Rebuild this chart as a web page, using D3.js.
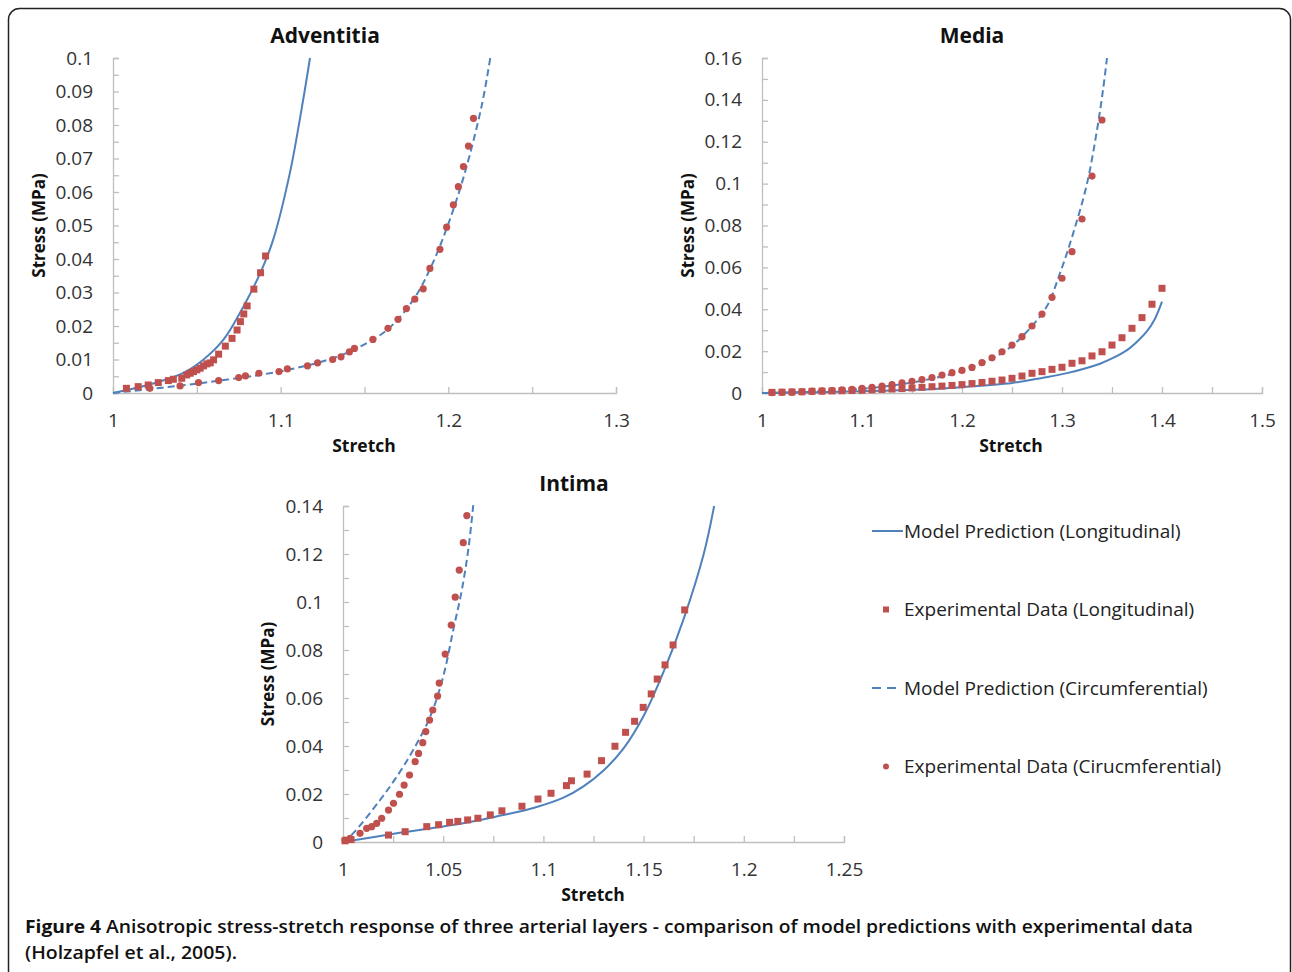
<!DOCTYPE html>
<html>
<head>
<meta charset="utf-8">
<script src="https://cdn.jsdelivr.net/npm/d3@7"></script>
<style>
  body { margin: 0; background: #fff; }
  text { font-family: "Open Sans", "Liberation Sans", sans-serif; }
  .tick text { fill: #333; }
</style>
</head>
<body>
<div id="figure"></div>
<script>
// Stress-stretch figure: three arterial layers, model vs experiment

const FRAME_WIDTH = 1292;
const FRAME_HEIGHT = 972;
const BLUE = "#4F81BD";
const RED = "#C0504D";
const AXIS_GREY = "#BFBFBF";

// ---- Adventitia data (stretch, stress MPa) ----
const ADV_LONG_MODEL_X = [1.0, 1.025, 1.042, 1.054, 1.066, 1.078, 1.088, 1.0955, 1.1055, 1.1127, 1.1175];
const ADV_LONG_MODEL_Y = [0, 0.003, 0.006, 0.010, 0.016, 0.026, 0.036, 0.0457, 0.0657, 0.0854, 0.1];
const ADV_LONG_EXP_X = [1.008, 1.015, 1.021, 1.027, 1.033, 1.036, 1.041, 1.044, 1.046, 1.048, 1.050,
  1.052, 1.054, 1.056, 1.058, 1.060, 1.063, 1.067, 1.071, 1.074, 1.076, 1.078, 1.080, 1.084, 1.088, 1.091];
const ADV_LONG_EXP_Y = [0.0014, 0.0019, 0.0024, 0.0031, 0.0037, 0.0041, 0.0044, 0.0054, 0.0059, 0.0064, 0.0069,
  0.0074, 0.0081, 0.0087, 0.009, 0.0099, 0.0116, 0.014, 0.0163, 0.0188, 0.0213, 0.0236, 0.026, 0.031, 0.0359, 0.0409];
const ADV_CIRC_MODEL_X = [1.0, 1.05, 1.1, 1.13, 1.15, 1.165, 1.18, 1.19, 1.2, 1.21, 1.22, 1.225];
const ADV_CIRC_MODEL_Y = [0, 0.0028, 0.0065, 0.0102, 0.0145, 0.0195, 0.0285, 0.038, 0.0505, 0.066, 0.086, 0.1];
const ADV_CIRC_EXP_X = [1.022, 1.040, 1.051, 1.063, 1.075, 1.079, 1.087, 1.099, 1.104, 1.116, 1.122, 1.131,
  1.136, 1.141, 1.144, 1.155, 1.164, 1.170, 1.175, 1.180, 1.185, 1.189, 1.195, 1.199, 1.203, 1.206, 1.209, 1.212, 1.215];
const ADV_CIRC_EXP_Y = [0.0014, 0.0021, 0.0031, 0.0037, 0.0046, 0.0051, 0.0059, 0.0064, 0.0072, 0.0081, 0.009, 0.010,
  0.0108, 0.0123, 0.0133, 0.016, 0.0193, 0.022, 0.0252, 0.028, 0.0311, 0.0372, 0.0429, 0.0495, 0.0562, 0.0616, 0.0676, 0.0737, 0.082];

// ---- Media data ----
const MED_LONG_MODEL_X = [1.0, 1.1, 1.15, 1.2, 1.25, 1.28, 1.305, 1.338, 1.35, 1.365, 1.375, 1.385, 1.393, 1.40];
const MED_LONG_MODEL_Y = [0, 0.0008, 0.0015, 0.0028, 0.0048, 0.0072, 0.0095, 0.0140, 0.0165, 0.0205, 0.0245, 0.0295, 0.0355, 0.0436];
const MED_LONG_EXP_X = [1.01, 1.02, 1.03, 1.04, 1.05, 1.06, 1.07, 1.08, 1.09, 1.10, 1.11, 1.12, 1.13, 1.14,
  1.15, 1.16, 1.17, 1.18, 1.19, 1.20, 1.21, 1.22, 1.23, 1.24, 1.25, 1.26, 1.27, 1.28, 1.29, 1.30, 1.31, 1.32,
  1.33, 1.34, 1.35, 1.36, 1.37, 1.38, 1.39, 1.40];
const MED_LONG_EXP_Y = [0.0003, 0.0004, 0.0005, 0.0006, 0.0008, 0.0009, 0.001, 0.0011, 0.0012, 0.0013, 0.0015,
  0.0017, 0.0019, 0.0021, 0.0024, 0.0027, 0.003, 0.0033, 0.0036, 0.004, 0.0045, 0.005, 0.0056, 0.0062, 0.007,
  0.0081, 0.0094, 0.0102, 0.0113, 0.0123, 0.0142, 0.0154, 0.0177, 0.0197, 0.0229, 0.0264, 0.0309, 0.036, 0.0424, 0.05];
const MED_CIRC_MODEL_X = [1.0, 1.05, 1.1, 1.15, 1.2, 1.23, 1.25, 1.27, 1.285, 1.298, 1.311, 1.325, 1.335, 1.341, 1.345];
const MED_CIRC_MODEL_Y = [0, 0.0006, 0.002, 0.005, 0.0105, 0.0165, 0.0225, 0.032, 0.0415, 0.0572, 0.076, 0.100, 0.1256, 0.1447, 0.16];
const MED_CIRC_EXP_X = [1.01, 1.02, 1.03, 1.04, 1.05, 1.06, 1.07, 1.08, 1.09, 1.10, 1.11, 1.12, 1.13, 1.14,
  1.15, 1.16, 1.17, 1.18, 1.19, 1.20, 1.21, 1.22, 1.23, 1.24, 1.25, 1.26, 1.27, 1.28, 1.29, 1.30, 1.31, 1.32, 1.33, 1.34];
const MED_CIRC_EXP_Y = [0.0002, 0.0003, 0.0004, 0.0006, 0.0008, 0.001, 0.0012, 0.0015, 0.0018, 0.0022, 0.0027,
  0.0033, 0.004, 0.0048, 0.0056, 0.0064, 0.0074, 0.0086, 0.0097, 0.0108, 0.0122, 0.0145, 0.0168, 0.0197, 0.0229,
  0.0269, 0.032, 0.0377, 0.0457, 0.0548, 0.0675, 0.0831, 0.1036, 0.1304];

// ---- Intima data ----
const INT_LONG_MODEL_X = [1.0, 1.0268, 1.06, 1.0785, 1.095, 1.11, 1.12, 1.13, 1.14, 1.15, 1.16, 1.17, 1.18, 1.1852];
const INT_LONG_MODEL_Y = [0, 0.0036, 0.0078, 0.011, 0.0142, 0.0185, 0.0232, 0.0298, 0.039, 0.0525, 0.071, 0.093, 0.12, 0.14];
const INT_LONG_EXP_X = [1.001, 1.004, 1.0227, 1.031, 1.0418, 1.0477, 1.0532, 1.0573, 1.0622, 1.0673, 1.0735,
  1.0793, 1.0893, 1.0973, 1.1038, 1.1115, 1.114, 1.1218, 1.129, 1.1357, 1.141, 1.1455, 1.1498, 1.1538, 1.1568,
  1.1607, 1.1647, 1.1705];
const INT_LONG_EXP_Y = [0.0005, 0.001, 0.0029, 0.0043, 0.0064, 0.0072, 0.0082, 0.0086, 0.0092, 0.0099, 0.0113,
  0.013, 0.0149, 0.0179, 0.0203, 0.0235, 0.0255, 0.0283, 0.0339, 0.0399, 0.0457, 0.0503, 0.0561, 0.0617, 0.0679,
  0.0738, 0.0821, 0.0967];
const INT_CIRC_MODEL_X = [1.0, 1.005, 1.0185, 1.0268, 1.035, 1.0435, 1.050, 1.055, 1.0593, 1.0627, 1.065];
const INT_CIRC_MODEL_Y = [0, 0.0036, 0.0175, 0.0272, 0.0383, 0.0522, 0.0689, 0.0883, 0.105, 0.123, 0.1404];
const INT_CIRC_EXP_X = [1.001, 1.0035, 1.0085, 1.0118, 1.0143, 1.0168, 1.0193, 1.0227, 1.0252, 1.0282, 1.0305,
  1.0332, 1.036, 1.0377, 1.0398, 1.0413, 1.0432, 1.0448, 1.0472, 1.048, 1.051, 1.054, 1.056, 1.058, 1.060, 1.0618];
const INT_CIRC_EXP_Y = [0.0008, 0.0015, 0.0036, 0.0057, 0.0064, 0.0078, 0.0099, 0.0133, 0.0161, 0.0199, 0.0237,
  0.0279, 0.0335, 0.0369, 0.0414, 0.046, 0.0508, 0.055, 0.0608, 0.0662, 0.0783, 0.0904, 0.102, 0.1133, 0.1247, 0.136];

// ---- Tick labels ----
const ADV_X_LABELS = [1, 1.1, 1.2, 1.3];
const ADV_Y_LABELS = [0, 0.01, 0.02, 0.03, 0.04, 0.05, 0.06, 0.07, 0.08, 0.09, 0.1];
const MED_X_LABELS = [1, 1.1, 1.2, 1.3, 1.4, 1.5];
const MED_Y_LABELS = [0, 0.02, 0.04, 0.06, 0.08, 0.1, 0.12, 0.14, 0.16];
const INT_X_LABELS = [1, 1.05, 1.1, 1.15, 1.2, 1.25];
const INT_Y_LABELS = [0, 0.02, 0.04, 0.06, 0.08, 0.1, 0.12, 0.14];

const LEGEND_LABELS = ["Model Prediction (Longitudinal)", "Experimental Data (Longitudinal)",
  "Model Prediction (Circumferential)", "Experimental Data (Cirucmferential)"];

const zip = (xs, ys) => xs.map((x, i) => ({x: x, y: ys[i]}));

const SVG = d3.select("#figure")
  .append("svg")
    .attr("width", FRAME_WIDTH)
    .attr("height", FRAME_HEIGHT);

// Rounded frame around the figure
SVG.append("rect")
  .attr("x", 8.5).attr("y", 8.5)
  .attr("width", 1282).attr("height", 1000)
  .attr("rx", 11)
  .attr("fill", "none")
  .attr("stroke", "#222")
  .attr("stroke-width", 1.5);

function drawPanel(p) {
  const X_SCALE = d3.scaleLinear().domain(p.xDomain).range(p.xRange);
  const Y_SCALE = d3.scaleLinear().domain(p.yDomain).range(p.yRange);

  const isMajor = (v, step) => Math.abs(v / step - Math.round(v / step)) < 1e-6;
  const xMinor = d3.range(0, Math.round((p.xDomain[1] - p.xDomain[0]) / p.xMinor) + 1)
                   .map((i) => +(p.xDomain[0] + i * p.xMinor).toFixed(4));
  const yMinor = d3.range(0, Math.round((p.yDomain[1] - p.yDomain[0]) / p.yMinor) + 1)
                   .map((i) => +(p.yDomain[0] + i * p.yMinor).toFixed(4));
  const xStep = p.xLabels[1] - p.xLabels[0];
  const yStep = p.yLabels[1] - p.yLabels[0];

  // x axis
  const gx = SVG.append("g")
    .attr("transform", "translate(0," + p.yRange[0] + ")")
    .call(d3.axisBottom(X_SCALE)
      .tickValues(xMinor)
      .tickSize(-6)
      .tickPadding(21)
      .tickFormat((d) => isMajor(d - p.xDomain[0], xStep) ? String(d) : ""));
  gx.selectAll("text").attr("font-size", "19px");

  // y axis
  const gy = SVG.append("g")
    .attr("transform", "translate(" + p.xRange[0] + ",0)")
    .call(d3.axisLeft(Y_SCALE)
      .tickValues(yMinor)
      .tickSize(-6)
      .tickPadding(20)
      .tickFormat((d) => isMajor(d, yStep) ? String(d) : ""));
  gy.selectAll("text").attr("font-size", "19px");

  SVG.selectAll(".domain, .tick line")
    .attr("stroke", AXIS_GREY)
    .attr("stroke-width", 1.3);

  // titles
  SVG.append("text")
    .attr("x", p.titleX).attr("y", p.titleY)
    .attr("text-anchor", "middle")
    .attr("font-size", "21px").attr("font-weight", "bold")
    .attr("fill", "#111")
    .text(p.title);
  SVG.append("text")
    .attr("x", p.xTitleX).attr("y", p.yRange[0] + 59)
    .attr("text-anchor", "middle")
    .attr("font-size", "17.5px").attr("font-weight", "bold")
    .attr("fill", "#111")
    .text("Stretch");
  SVG.append("text")
    .attr("transform", "translate(" + p.yTitleX + "," + ((p.yRange[0] + p.yRange[1]) / 2) + ") rotate(-90)")
    .attr("text-anchor", "middle")
    .attr("font-size", "17px").attr("font-weight", "bold")
    .attr("fill", "#111")
    .text("Stress (MPa)");

  const LINE = d3.line()
    .x((d) => X_SCALE(d.x))
    .y((d) => Y_SCALE(d.y))
    .curve(d3.curveCatmullRom.alpha(0.5));

  // model curves
  SVG.append("path")
    .datum(zip(p.longModelX, p.longModelY))
    .attr("d", LINE)
    .attr("fill", "none").attr("stroke", BLUE).attr("stroke-width", 2);
  SVG.append("path")
    .datum(zip(p.circModelX, p.circModelY))
    .attr("d", LINE)
    .attr("fill", "none").attr("stroke", BLUE).attr("stroke-width", 2)
    .attr("stroke-dasharray", "7,4");

  // experimental points
  SVG.selectAll(null)
    .data(zip(p.longExpX, p.longExpY))
    .enter()
    .append("rect")
      .attr("x", (d) => X_SCALE(d.x) - 3.5)
      .attr("y", (d) => Y_SCALE(d.y) - 3.5)
      .attr("width", 7).attr("height", 7)
      .attr("fill", RED);
  SVG.selectAll(null)
    .data(zip(p.circExpX, p.circExpY))
    .enter()
    .append("circle")
      .attr("cx", (d) => X_SCALE(d.x))
      .attr("cy", (d) => Y_SCALE(d.y))
      .attr("r", 3.6)
      .attr("fill", RED);
}

drawPanel({
  title: "Adventitia", titleX: 325, titleY: 43, xTitleX: 364, yTitleX: 45,
  xDomain: [1, 1.3], xRange: [113, 616], xMinor: 0.05, xLabels: ADV_X_LABELS,
  yDomain: [0, 0.1], yRange: [393, 58], yMinor: 0.005, yLabels: ADV_Y_LABELS,
  longModelX: ADV_LONG_MODEL_X, longModelY: ADV_LONG_MODEL_Y,
  longExpX: ADV_LONG_EXP_X, longExpY: ADV_LONG_EXP_Y,
  circModelX: ADV_CIRC_MODEL_X, circModelY: ADV_CIRC_MODEL_Y,
  circExpX: ADV_CIRC_EXP_X, circExpY: ADV_CIRC_EXP_Y
});

drawPanel({
  title: "Media", titleX: 972, titleY: 43, xTitleX: 1011, yTitleX: 694,
  xDomain: [1, 1.5], xRange: [762, 1262], xMinor: 0.05, xLabels: MED_X_LABELS,
  yDomain: [0, 0.16], yRange: [393, 58], yMinor: 0.01, yLabels: MED_Y_LABELS,
  longModelX: MED_LONG_MODEL_X, longModelY: MED_LONG_MODEL_Y,
  longExpX: MED_LONG_EXP_X, longExpY: MED_LONG_EXP_Y,
  circModelX: MED_CIRC_MODEL_X, circModelY: MED_CIRC_MODEL_Y,
  circExpX: MED_CIRC_EXP_X, circExpY: MED_CIRC_EXP_Y
});

drawPanel({
  title: "Intima", titleX: 574, titleY: 491, xTitleX: 593, yTitleX: 274,
  xDomain: [1, 1.25], xRange: [343, 844], xMinor: 0.025, xLabels: INT_X_LABELS,
  yDomain: [0, 0.14], yRange: [842, 506], yMinor: 0.01, yLabels: INT_Y_LABELS,
  longModelX: INT_LONG_MODEL_X, longModelY: INT_LONG_MODEL_Y,
  longExpX: INT_LONG_EXP_X, longExpY: INT_LONG_EXP_Y,
  circModelX: INT_CIRC_MODEL_X, circModelY: INT_CIRC_MODEL_Y,
  circExpX: INT_CIRC_EXP_X, circExpY: INT_CIRC_EXP_Y
});

// Legend
const LEGEND = SVG.append("g").attr("transform", "translate(872,531)");
const LEG_GAP = 78.5;
LEGEND_LABELS.forEach((label, i) => {
  const g = LEGEND.append("g").attr("transform", "translate(0," + (i * LEG_GAP) + ")");
  if (i === 0) {
    g.append("line").attr("x1", 0).attr("x2", 31).attr("stroke", BLUE).attr("stroke-width", 2);
  } else if (i === 2) {
    g.append("line").attr("x1", 0).attr("x2", 29).attr("stroke", BLUE).attr("stroke-width", 2)
      .attr("stroke-dasharray", "9,6");
  } else if (i === 1) {
    g.append("rect").attr("x", 11).attr("y", -3).attr("width", 6).attr("height", 6).attr("fill", RED);
  } else {
    g.append("circle").attr("cx", 14).attr("cy", 0).attr("r", 3).attr("fill", RED);
  }
  g.append("text")
    .attr("x", 32).attr("y", 6.5)
    .attr("font-size", "19px")
    .attr("fill", "#222")
    .text(label);
});

// Caption
const CAP1 = SVG.append("text")
  .attr("x", 25).attr("y", 933)
  .attr("font-size", "18px")
  .attr("fill", "#111")
  .attr("textLength", 1168)
  .attr("lengthAdjust", "spacingAndGlyphs");
CAP1.append("tspan").attr("font-weight", "bold").text("Figure 4 ");
CAP1.append("tspan").attr("font-weight", 600)
  .text("Anisotropic stress-stretch response of three arterial layers - comparison of model predictions with experimental data");
SVG.append("text")
  .attr("x", 25).attr("y", 959)
  .attr("font-size", "18px").attr("font-weight", 600)
  .attr("fill", "#111")
  .attr("textLength", 212)
  .attr("lengthAdjust", "spacingAndGlyphs")
  .text("(Holzapfel et al., 2005).");
</script>
</body>
</html>
